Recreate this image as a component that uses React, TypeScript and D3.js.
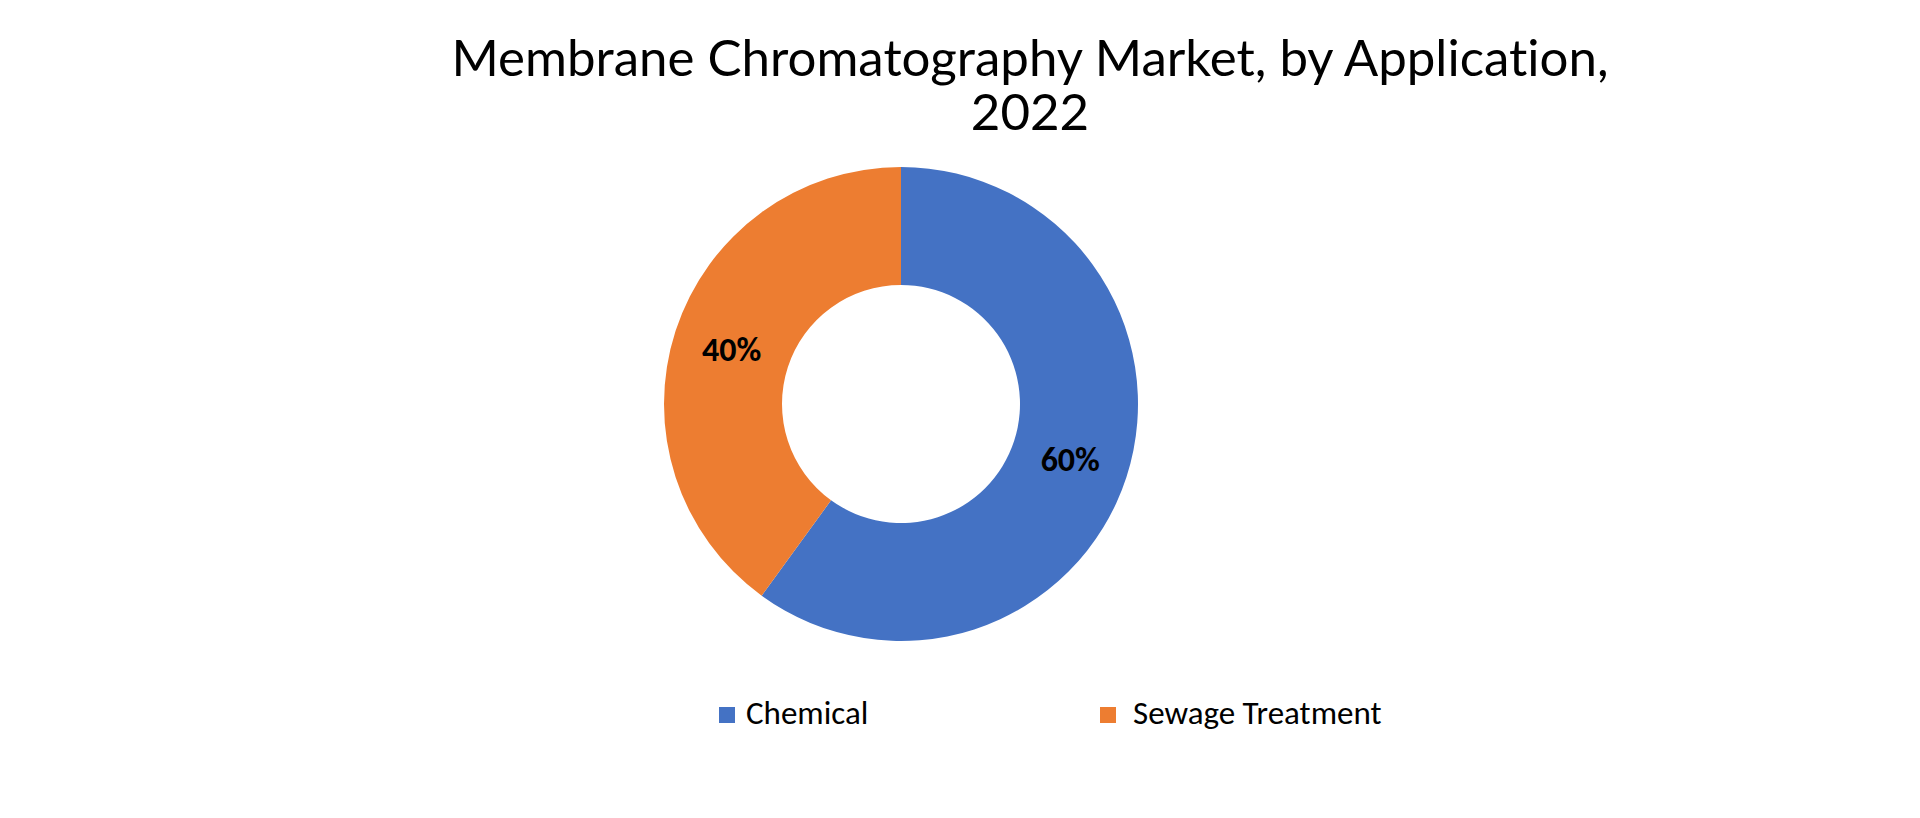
import React from "react";
import * as d3 from "d3";

const categories = ["Chemical", "Sewage Treatment"];
const values = [60, 40];
const colors = ["#4472C4", "#ED7D31"];
const titleLines = ["Membrane Chromatography Market, by Application,", "2022"];

const W = 1920;
const H = 818;

export default function App() {
  const cx = 901;
  const cy = 404;
  const outerR = 237;
  const innerR = 119;

  const pie = d3.pie<number>().sort(null).value((d) => d)(values);
  const arc = d3.arc<d3.PieArcDatum<number>>().innerRadius(innerR).outerRadius(outerR);
  const total = d3.sum(values);

  const legendX = [719, 1100];
  const textOffset = [27, 33];

  return (
    <svg
      width={W}
      height={H}
      viewBox={`0 0 ${W} ${H}`}
      style={{ position: "absolute", left: 0, top: 0, background: "#fff" }}
    >
      <rect x={0} y={0} width={W} height={H} fill="#fff" />
      <g
        fontFamily="Lato, 'Noto Sans', sans-serif"
        fontSize={51}
        fill="#000"
        textAnchor="middle"
        style={{ fontVariantLigatures: "none" }}
      >
        {titleLines.map((t, i) => (
          <text key={i} x={1030} y={76 + i * 54}>
            {t}
          </text>
        ))}
      </g>
      <g transform={`translate(${cx},${cy})`}>
        {pie.map((p, i) => (
          <path key={i} d={arc(p) || ""} fill={colors[i]} />
        ))}
        {pie.map((p, i) => {
          const [x, y] = arc.centroid(p);
          return (
            <text
              key={"l" + i}
              x={x}
              y={y}
              dy="0.36em"
              textAnchor="middle"
              fontFamily="Carlito, 'Open Sans', sans-serif"
              fontWeight="bold"
              fontSize={34}
              fill="#000"
            >
              {Math.round((p.data / total) * 100)}%
            </text>
          );
        })}
      </g>
      <g>
        {categories.map((c, i) => (
          <g key={c}>
            <rect x={legendX[i]} y={707} width={16} height={16} fill={colors[i]} />
            <text
              x={legendX[i] + textOffset[i]}
              y={724}
              fontFamily="Carlito, 'Open Sans', sans-serif"
              fontSize={33}
              fill="#000"
            >
              {c}
            </text>
          </g>
        ))}
      </g>
    </svg>
  );
}
